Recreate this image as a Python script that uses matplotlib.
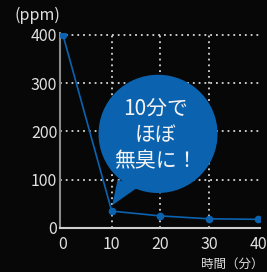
import matplotlib.pyplot as plt
from matplotlib.patches import Ellipse, Polygon

plt.rcParams['font.family'] = ['Noto Sans CJK JP', 'DejaVu Sans']

minutes = [0, 10, 20, 30, 40]
ppm = [400, 35, 25, 19, 18]
x_ticks = [0, 10, 20, 30, 40]
y_ticks = [0, 100, 200, 300, 400]

BLUE = '#0b63b0'
BG = '#070707'
GRID = '#d8d8d8'

fig = plt.figure(figsize=(2.67, 2.72), dpi=100, facecolor=BG)
ax = fig.add_axes([60 / 267, 44 / 272, 200 / 267, 195 / 272], facecolor=BG)

ax.set_xlim(-0.6, 40.4)
ax.set_ylim(0, 404)

# dotted grid
for y in y_ticks[1:]:
    ax.plot([-0.6, 40.4], [y, y], color=GRID, lw=1.3, ls=(0, (1, 2.2)), zorder=1)
for x in x_ticks[1:4]:
    ax.plot([x, x], [0, 400], color=GRID, lw=1.3, ls=(0, (1, 2.2)), zorder=1)

ax.plot(minutes, ppm, color=BLUE, lw=1.2, marker='o', ms=4.5, zorder=3)

# speech bubble
ax.add_patch(Ellipse((19.5, 195), 24.4, 245, color=BLUE, zorder=4, lw=0))
ax.add_patch(Polygon([(11.2, 100), (10.1, 47), (15.6, 86)], closed=True,
                     color=BLUE, zorder=4, lw=0))
ax.text(19.0, 193, '10分で\nほぼ\n無臭に！', color='#f4f4f4', fontsize=15,
        ha='center', va='center', linespacing=1.25, zorder=5)

for s in ['top', 'right']:
    ax.spines[s].set_visible(False)
ax.spines['left'].set_color('#8a8a8a')
ax.spines['bottom'].set_color('#d0d0d0')
ax.spines['left'].set_linewidth(1.5)
ax.spines['bottom'].set_linewidth(1.5)

ax.set_xticks(x_ticks)
ax.set_yticks(y_ticks)
ax.tick_params(length=0, colors='#e0e0e0', labelsize=11.5)
ax.tick_params(axis='x', pad=6)
ax.tick_params(axis='y', pad=2)

fig.text(15 / 267, 1 - 15 / 272, '(ppm)', color='#e0e0e0', fontsize=11.5,
         ha='left', va='center')
fig.text(263 / 267, 1 - 264 / 272, '時間（分）', color='#e0e0e0', fontsize=9,
         ha='right', va='center')

fig.savefig('out.png', dpi=100, facecolor=BG)
